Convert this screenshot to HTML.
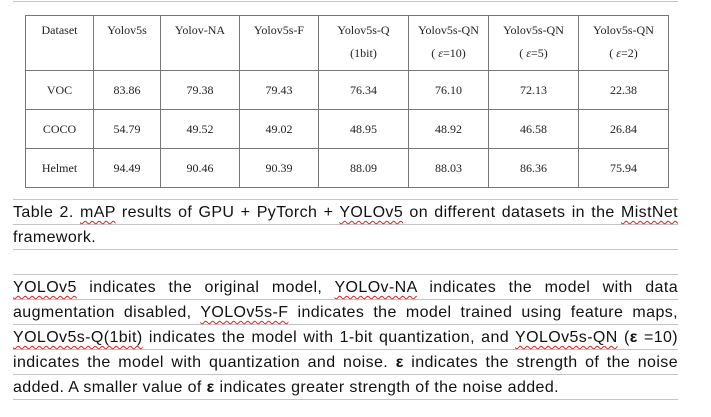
<!DOCTYPE html>
<html><head><meta charset="utf-8"><style>
html,body{margin:0;padding:0;background:#fff;width:711px;height:417px;overflow:hidden;position:relative}
.hl{position:absolute;left:13px;width:665px;height:1px;background:#c4c4c4}
table{position:absolute;left:25px;top:15px;border-collapse:collapse;font-family:"Liberation Serif",serif;font-size:12px;color:#222}
td{border:1px solid #777;text-align:center;padding:0}
tr.h td{height:55px;vertical-align:top;line-height:23px;padding-top:3px;box-sizing:border-box}
tr.r td{height:38px}
.t{position:absolute;left:13px;width:665px;font-family:"Liberation Sans",Arial,sans-serif;font-size:16px;letter-spacing:0.4px;color:#111;line-height:25px;text-align:justify;text-align-last:justify;white-space:nowrap}
.t.l{text-align-last:left}
u{text-decoration:underline wavy #e02020;text-decoration-thickness:1px;text-underline-offset:3px}
</style></head><body>
<div class="hl" style="top:1px"></div>
<table>
<colgroup><col style="width:68px"><col style="width:67px"><col style="width:79px"><col style="width:79px"><col style="width:90px"><col style="width:80px"><col style="width:90px"><col style="width:90px"></colgroup>
<tr class="h"><td>Dataset</td><td>Yolov5s</td><td>Yolov-NA</td><td>Yolov5s-F</td><td>Yolov5s-Q<br>(1bit)</td><td>Yolov5s-QN<br>( <i>ε</i>=10)</td><td>Yolov5s-QN<br>( <i>ε</i>=5)</td><td>Yolov5s-QN<br>( <i>ε</i>=2)</td></tr>
<tr class="r"><td>VOC</td><td>83.86</td><td>79.38</td><td>79.43</td><td>76.34</td><td>76.10</td><td>72.13</td><td>22.38</td></tr>
<tr class="r"><td>COCO</td><td>54.79</td><td>49.52</td><td>49.02</td><td>48.95</td><td>48.92</td><td>46.58</td><td>26.84</td></tr>
<tr class="r"><td>Helmet</td><td>94.49</td><td>90.46</td><td>90.39</td><td>88.09</td><td>88.03</td><td>86.36</td><td>75.94</td></tr>
</table>
<div class="hl" style="top:199px"></div>
<div class="hl" style="top:224px"></div>
<div class="hl" style="top:249px"></div>
<div class="hl" style="top:274px"></div>
<div class="hl" style="top:299px"></div>
<div class="hl" style="top:324px"></div>
<div class="hl" style="top:349px"></div>
<div class="hl" style="top:374px"></div>
<div class="hl" style="top:399px"></div>
<div class="t" style="top:200px">Table 2. <u>mAP</u> results of GPU + PyTorch + <u>YOLOv5</u> on different datasets in the <u>MistNet</u></div>
<div class="t l" style="top:225px">framework.</div>
<div class="t" style="top:275px"><u>YOLOv5</u> indicates the original model, <u>YOLOv-NA</u> indicates the model with data</div>
<div class="t" style="top:300px">augmentation disabled, <u>YOLOv5s-F</u> indicates the model trained using feature maps,</div>
<div class="t" style="top:325px"><u>YOLOv5s-Q(1bit)</u> indicates the model with 1-bit quantization, and <u>YOLOv5s-QN</u> (<b>ε</b> =10)</div>
<div class="t" style="top:350px">indicates the model with quantization and noise. <b>ε</b> indicates the strength of the noise</div>
<div class="t l" style="top:375px">added. A smaller value of <b>ε</b> indicates greater strength of the noise added.</div>
</body></html>
